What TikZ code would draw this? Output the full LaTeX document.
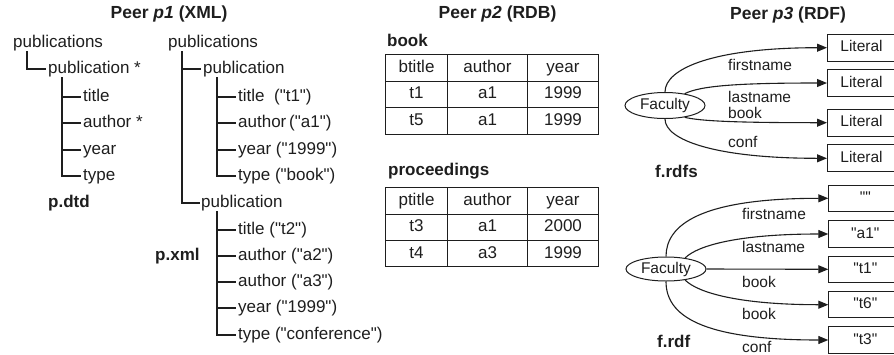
\documentclass[tikz,border=0pt]{standalone}
\usepackage{fontspec}
\setmainfont{Liberation Sans}[Ligatures=TeXOff]
\usetikzlibrary{shapes.geometric,arrows.meta}
\definecolor{ink}{RGB}{30,30,30}

\begin{document}
\begin{tikzpicture}[x=1pt,y=-1pt,
  every node/.style={inner sep=0pt, text=ink},
  big/.style={font=\fontsize{17}{20}\selectfont, text height=12.5pt, text depth=3.5pt},
  sml/.style={font=\fontsize{15.5}{18}\selectfont, text height=11.4pt, text depth=3.2pt},
  lbl/.style={big, anchor=west},
  elbl/.style={sml, anchor=west},
  bold/.style={font=\fontsize{17}{20}\selectfont\bfseries, text height=12.5pt, text depth=3.5pt, anchor=west},
  head/.style={font=\fontsize{17.5}{20}\selectfont\bfseries, text height=12.8pt, text depth=3.6pt},
  tree/.style={draw=ink, line width=1.1pt},
  cell/.style={big, draw=ink, line width=1pt, minimum height=26.7pt},
  ell/.style={sml, ellipse, draw=ink, line width=1pt, minimum width=80pt, minimum height=26pt},
  lit/.style={sml, draw=ink, line width=1pt, minimum width=68pt, minimum height=27pt, anchor=west},
  arr/.style={draw=ink, line width=1.1pt, -{Triangle[length=10pt,width=8pt]}}
]
\useasboundingbox (0,0) rectangle (894,354);
\clip (0,0) rectangle (894,354);

% ---------- headings ----------
\node[head] (h1) at (169,14) {Peer \textit{p1} (XML)};
\node[head] (h2) at (497.5,14) {Peer \textit{p2} (RDB)};
\node[head] (h3) at (788,15) {Peer \textit{p3} (RDF)};

% ---------- p.dtd ----------
\node[lbl] (d0) at (13,43) {publications};
\node[lbl] (d1) at (48,69) {publication *};
\node[lbl] (d2) at (83,97) {title};
\node[lbl] (d3) at (83,123) {author *};
\node[lbl] (d4) at (83,150) {year};
\node[lbl] (d5) at (83,176) {type};
\node[bold] (dtd) at (48,203) {p.dtd};
\draw[tree] ([xshift=14pt]d0.south west) |- ([xshift=-2pt]d1.west);
\foreach \c in {d2,d3,d4,d5}
  \draw[tree] ([xshift=14pt]d1.south west) |- ([xshift=-2pt]\c.west);

% ---------- p.xml ----------
\node[lbl] (x0) at (168,43) {publications};
\node[lbl] (x1) at (203,69) {publication};
\node[lbl] (x11) at (238,97) {title~ ("t1")};
\node[lbl] (x12) at (238,123) {author\,("a1")};
\node[lbl] (x13) at (238,150) {year ("1999")};
\node[lbl] (x14) at (238,176) {type ("book")};
\node[lbl] (x2) at (201,203) {publication};
\node[lbl] (x21) at (238,230) {title ("t2")};
\node[lbl] (x22) at (238,256) {author ("a2")};
\node[lbl] (x23) at (238,282) {author ("a3")};
\node[lbl] (x24) at (238,308) {year ("1999")};
\node[lbl] (x25) at (238,335) {type ("conference")};
\node[bold] (xml) at (155,256) {p.xml};
\draw[tree] ([xshift=14pt]x0.south west) |- ([xshift=-2pt]x1.west);
\draw[tree] ([xshift=14pt]x0.south west) |- ([xshift=-1pt]x2.west);
\foreach \c in {x11,x12,x13,x14}
  \draw[tree] ([xshift=14pt]x1.south west) |- ([xshift=-2pt]\c.west);
\foreach \c in {x21,x22,x23,x24,x25}
  \draw[tree] ([xshift=16pt]x2.south west) |- ([xshift=-2pt]\c.west);

% ---------- relational tables ----------
\node[bold] (book) at (387,42) {book};
\foreach [count=\r] \a/\b/\c in {btitle/author/year, t1/a1/1999, t5/a1/1999} {
  \pgfmathsetmacro\yy{67.65+(\r-1)*26.7}
  \node[cell, minimum width=62.4pt] (bk-\r-1) at (416.5,\yy) {\a};
  \node[cell, minimum width=79.6pt] (bk-\r-2) at (487.5,\yy) {\b};
  \node[cell, minimum width=71.4pt] (bk-\r-3) at (563,\yy) {\c};
}
\node[bold] (proc) at (388,171) {proceedings};
\foreach [count=\r] \a/\b/\c in {ptitle/author/year, t3/a1/2000, t4/a3/1999} {
  \pgfmathsetmacro\yy{200.9+(\r-1)*26.4}
  \node[cell, minimum width=62.4pt, minimum height=26.4pt] (pr-\r-1) at (416.5,\yy) {\a};
  \node[cell, minimum width=79.6pt, minimum height=26.4pt] (pr-\r-2) at (487.5,\yy) {\b};
  \node[cell, minimum width=71.4pt, minimum height=26.4pt] (pr-\r-3) at (563,\yy) {\c};
}

% ---------- f.rdfs ----------
\node[ell] (fa) at (665,105.5) {Faculty};
\node[lit] (l1) at (827,47.7) {Literal};
\node[lit] (l2) at (827,83) {Literal};
\node[lit] (l3) at (827,122.7) {Literal};
\node[lit] (l4) at (827,158.3) {Literal};
\draw[arr] (fa.north) .. controls (665,68) and (715,47.7) .. (l1.west);
\draw[arr] (fa.31) .. controls (700,86) and (735,83) .. (l2.west);
\draw[arr] (fa.-31) .. controls (700,121) and (735,122.7) .. (l3.west);
\draw[arr] (fa.south) .. controls (665,140) and (715,158.3) .. (l4.west);
\node[elbl] (fa-fn) at (728,66) {firstname};
\node[elbl] (fa-ln) at (728,98) {lastname};
\node[elbl] (fa-bk) at (728,114) {book};
\node[elbl] (fa-cf) at (728,143) {conf};
\node[bold] (rdfs) at (655,173) {f.rdfs};

% ---------- f.rdf ----------
\node[ell, minimum height=24pt] (fb) at (666,269) {Faculty};
\node[lit, minimum width=73pt, minimum height=26.5pt] (v1) at (828.3,198.3) {""};
\node[lit, minimum width=73pt, minimum height=26.5pt] (v2) at (828.3,234) {"a1"};
\node[lit, minimum width=73pt, minimum height=26.5pt] (v3) at (828.3,269.3) {"t1"};
\node[lit, minimum width=73pt, minimum height=26.5pt] (v4) at (828.3,304.7) {"t6"};
\node[lit, minimum width=73pt, minimum height=26.5pt] (v5) at (828.3,340) {"t3"};
\draw[arr] (fb.north) .. controls (666,225) and (700,198.3) .. (v1.west);
\draw[arr] (fb.30) .. controls (698,245) and (740,234) .. (v2.west);
\draw[arr] (fb.east) -- (v3.west);
\draw[arr] (fb.-30) .. controls (698,293) and (740,304.7) .. (v4.west);
\draw[arr] (fb.south) .. controls (666,315) and (700,340) .. (v5.west);
\node[elbl] (fb-fn) at (742,215) {firstname};
\node[elbl] (fb-ln) at (742,248) {lastname};
\node[elbl] (fb-b1) at (742,283) {book};
\node[elbl] (fb-b2) at (742,315) {book};
\node[elbl, text depth=0pt] (fb-cf) at (742,346.5) {conf};
\node[bold] (rdf) at (657,343) {f.rdf};
\end{tikzpicture}
\end{document}
